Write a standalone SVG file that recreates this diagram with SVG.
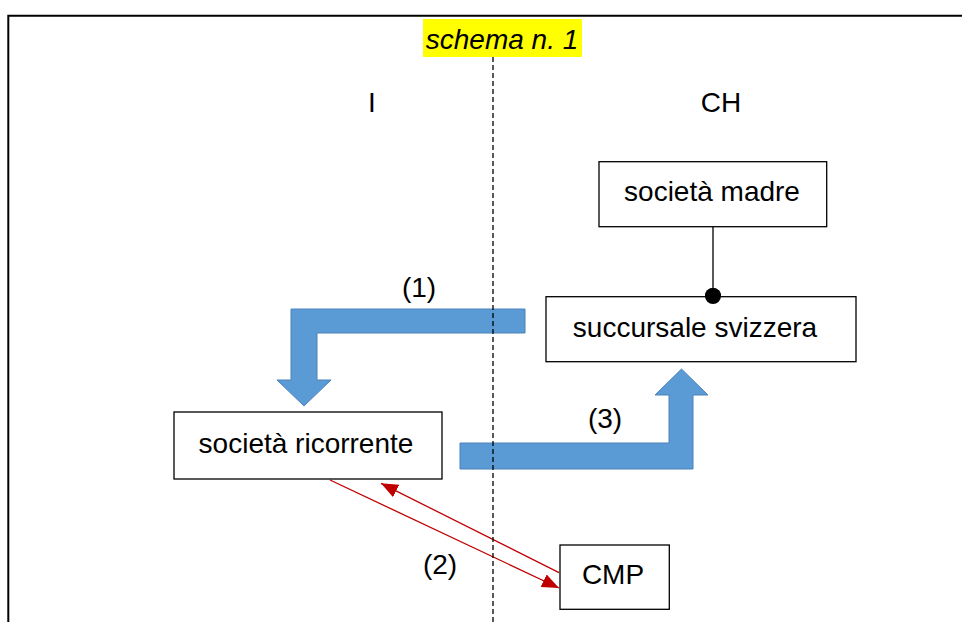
<svg xmlns="http://www.w3.org/2000/svg" width="962" height="622" viewBox="0 0 962 622">
<style>
text{font-family:"Liberation Sans",Arial,sans-serif;font-size:28px;fill:#000;text-anchor:middle}
.box{fill:#fff;stroke:#000;stroke-width:1.3}
.blue{fill:#5B9BD5;stroke:#4A82BC;stroke-width:1}
.red{stroke:#C00000;stroke-width:1.3;fill:none}
</style>
<defs>
<marker id="ah" markerUnits="userSpaceOnUse" markerWidth="18" markerHeight="14" refX="17" refY="7" orient="auto">
<path d="M0,0 L17,7 L0,14 z" fill="#C00000"/>
</marker>
</defs>
<rect width="962" height="622" fill="#fff"/>
<path d="M8.3,622 V15.7 H962" fill="none" stroke="#000" stroke-width="2"/>
<g id="title">
<rect x="423" y="19" width="159" height="38" fill="#FFFF00"/>
<text x="502" y="49" font-style="italic">schema n. 1</text>
</g>
<g id="labels">
<text x="372" y="112">I</text>
<text x="721" y="112">CH</text>
</g>
<g id="connectors">
<polygon class="blue" points="525,309 291,309 291,380 277,380 304,406 331,380 317,380 317,333 525,333"/>
<polygon class="blue" points="460,443 669,443 669,395 655,395 681.5,369 708,395 693,395 693,469 460,469"/>
<line class="red" x1="330" y1="480" x2="559" y2="588" marker-end="url(#ah)"/>
<line class="red" x1="559" y1="572.7" x2="381" y2="483.3" marker-end="url(#ah)"/>
<line x1="713" y1="227" x2="713" y2="297" stroke="#000" stroke-width="1.3"/>
<circle cx="713" cy="296" r="8" fill="#000"/>
<text x="419" y="297">(1)</text>
<text x="605" y="428">(3)</text>
<text x="440" y="574">(2)</text>
</g>
<line x1="493" y1="57" x2="493" y2="622" stroke="#000" stroke-width="1.3" stroke-dasharray="5,3"/>
<g id="societa-madre">
<rect class="box" x="599" y="161.7" width="227.7" height="65"/>
<text x="712" y="201">società madre</text>
</g>
<g id="succursale-svizzera">
<rect class="box" x="546" y="296.7" width="310" height="65"/>
<text x="695" y="337">succursale svizzera</text>
</g>
<circle cx="713" cy="296" r="8" fill="#000"/>
<g id="societa-ricorrente">
<rect class="box" x="174" y="412" width="268" height="67"/>
<text x="306" y="453">società ricorrente</text>
</g>
<g id="cmp">
<rect class="box" x="560" y="545" width="109.3" height="64.3"/>
<text x="613" y="584">CMP</text>
</g>
</svg>
